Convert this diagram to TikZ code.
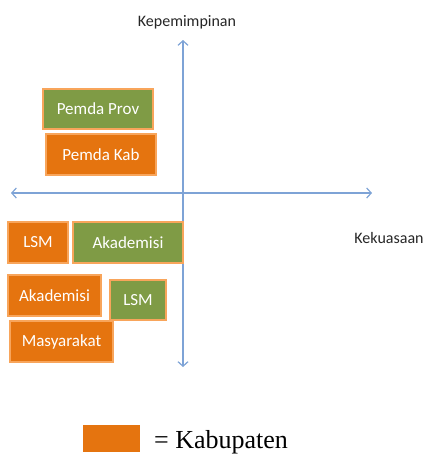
\documentclass[tikz,border=0pt]{standalone}
\usepackage{fontspec}
\newfontfamily\carlitofont{Carlito}
\newfontfamily\legendfont{Liberation Serif}
\usetikzlibrary{arrows.meta}
\definecolor{gboxfill}{HTML}{7F9B45}
\definecolor{oboxfill}{HTML}{E5740F}
\definecolor{oboxline}{HTML}{F8A55B}
\definecolor{axisblue}{HTML}{7EA3D6}
\tikzset{
  box/.style={draw=oboxline, line width=1.5pt, minimum height=40pt, inner sep=0pt,
    text=white, font=\carlitofont\fontsize{17}{20}\selectfont},
  gbox/.style={box, fill=gboxfill},
  obox/.style={box, fill=oboxfill},
  axislabel/.style={font=\carlitofont\fontsize{16}{19}\selectfont, text=black!85},
  axisline/.style={draw=axisblue, line width=1.2pt,
    {Straight Barb[length=4.5pt,width=10pt]}-{Straight Barb[length=4.5pt,width=10pt]}}
}
\begin{document}
\begin{tikzpicture}[x=1pt,y=-1pt]
\useasboundingbox (0,0) rectangle (428,456);
\coordinate (vtop) at (183,40);
\coordinate (vbot) at (183,367);
\coordinate (hleft) at (11,193);
\coordinate (hright) at (372,193);
\draw[axisline] (vbot) -- (vtop);
\draw[axisline] (hleft) -- (hright);
\node[axislabel] (kep) at (187,22) {Kepemimpinan};
\node[axislabel] (kek) at (389,238) {Kekuasaan};
\node[gbox, minimum width=110pt] (prov) at (98,109) {Pemda Prov};
\node[obox, minimum width=110pt, minimum height=41pt] (kab) at (101,154.5) {Pemda Kab};
\node[obox, minimum width=60pt, minimum height=41pt] (lsm1) at (38,242.5) {LSM};
\node[gbox, minimum width=110pt, minimum height=41pt] (ak1) at (128,242.5) {Akademisi};
\node[obox, minimum width=93pt, minimum height=41pt] (ak2) at (54.5,295.5) {Akademisi};
\node[gbox, minimum width=56pt] (lsm2) at (138,300) {LSM};
\node[obox, minimum width=103pt, minimum height=41pt] (mas) at (61.5,341.5) {Masyarakat};
\node[fill=oboxfill, minimum width=57pt, minimum height=27pt, inner sep=0pt] (leg) at (111.5,438.5) {};
\node[anchor=west, inner sep=0pt, font=\legendfont\fontsize{26}{29}\selectfont] (legtext) at (154,442) {= Kabupaten};
\end{tikzpicture}
\end{document}
